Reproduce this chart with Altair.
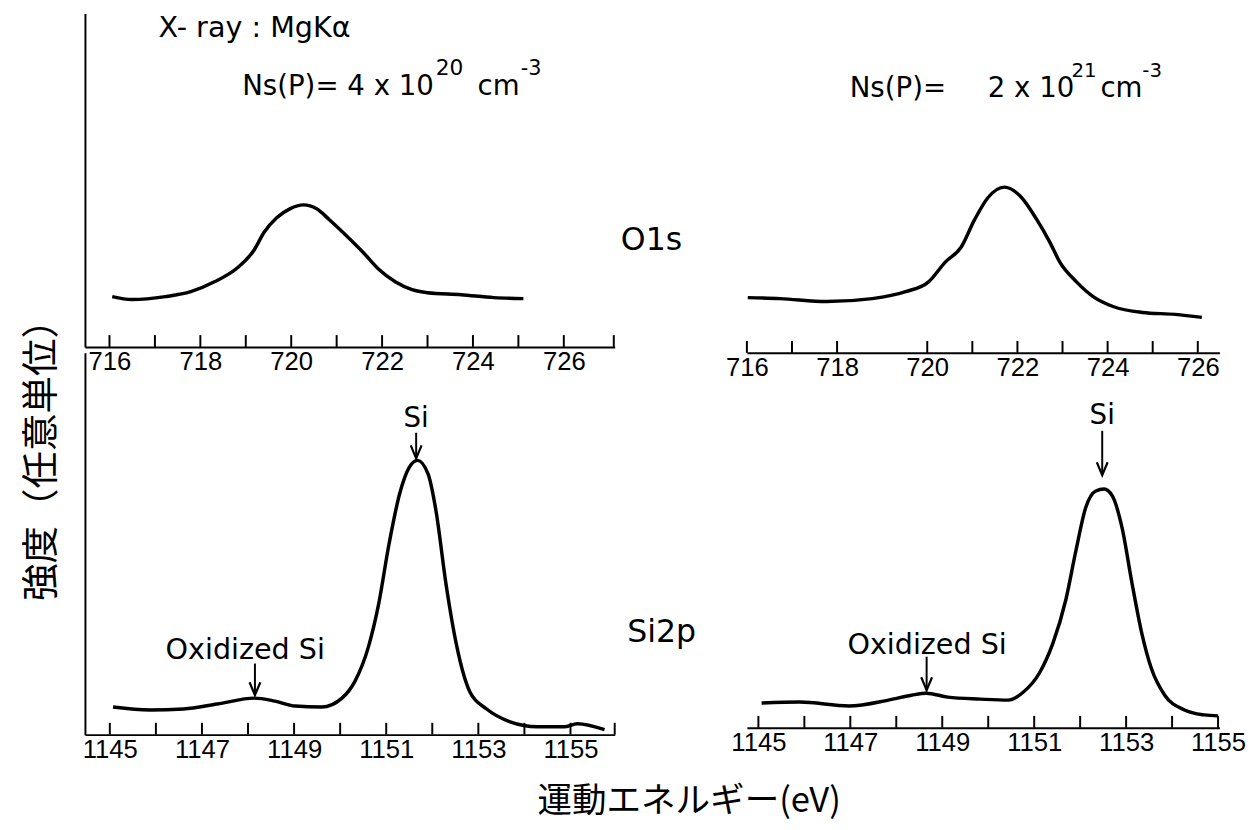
import altair as alt
import pandas as pd

# ---------------- data ----------------
# O1s, Ns(P) = 4e20 (top-left)
O1S_L_E = [716.06, 716.49, 717.23, 717.79, 718.31, 718.81, 719.18, 719.40, 719.68, 719.97, 720.27,
           720.56, 720.84, 721.21, 721.58, 721.92, 722.29, 722.66, 723.00, 723.74, 724.46, 725.11]
O1S_L_I = [51, 48, 51, 56, 66, 80, 98, 116, 131, 140, 144,
           140, 129, 113, 96, 79, 66, 58, 55, 53, 50, 49]

# O1s, Ns(P) = 2e21 (top-right)
O1S_R_E = [716.02, 716.74, 717.77, 718.78, 719.52, 720.03, 720.40, 720.75, 721.05, 721.34, 721.71,
           722.06, 722.43, 722.72, 722.94, 723.31, 723.68, 724.12, 724.77, 725.50, 726.09]
O1S_R_I = [56, 55, 52, 55, 62, 72, 92, 107, 135, 157, 168,
           159, 135, 112, 92, 72, 57, 47, 41, 39, 36]

# Si2p, Ns(P) = 4e20 (bottom-left)
SI2P_L_E = [1145.07, 1145.87, 1146.60, 1147.33, 1148.14, 1148.58, 1149.02, 1149.60, 1150.04,
            1150.32, 1150.62, 1150.83, 1151.06, 1151.29, 1151.50, 1151.68, 1151.91, 1152.08,
            1152.30, 1152.53, 1152.82, 1153.18, 1153.69, 1154.28, 1154.86, 1155.15, 1155.74]
SI2P_L_I = [28, 25, 26, 31, 37, 34, 29, 28, 37,
            54, 90, 131, 193, 244, 271, 278, 264, 227,
            152, 90, 43, 26, 13, 8, 8, 11, 5]

# Si2p, Ns(P) = 2e21 (bottom-right)
SI2P_R_E = [1145.07, 1145.90, 1146.97, 1147.83, 1148.33, 1148.65, 1149.12, 1149.83, 1150.44,
            1150.76, 1151.12, 1151.41, 1151.69, 1151.91, 1152.12, 1152.34, 1152.52, 1152.70,
            1152.91, 1153.13, 1153.34, 1153.55, 1153.84, 1154.27, 1154.70, 1155.00]
SI2P_R_I = [25, 26, 22, 28, 33, 35, 31, 29, 28,
            36, 56, 86, 130, 180, 223, 240, 242, 235,
            203, 146, 96, 60, 33, 18, 13, 12]

# axis ticks and tick labels
TL_TICKS = [716, 717, 718, 719, 720, 721, 722, 723, 724, 725, 726, 727.1]
TL_LABELS = [716, 718, 720, 722, 724, 726]
TR_TICKS = [716, 717, 718, 720, 721, 722, 723, 724, 725, 726]
TR_LABELS = [716, 718, 720, 722, 724, 726]
BL_TICKS = [1145, 1146, 1147, 1148, 1149, 1150, 1151, 1152, 1153, 1154, 1155, 1155.96]
BL_LABELS = [1145, 1147, 1149, 1151, 1153, 1155]
BR_TICKS = [1145, 1146, 1147, 1148, 1149, 1150, 1151, 1152, 1153, 1154, 1155]
BR_LABELS = [1145, 1147, 1149, 1151, 1153, 1155]

# annotation texts
TL_TEXT = ["X- ray : MgKα", "Ns(P)= 4 x 10", "20", "cm", "-3"]
TL_TEXT_X = [717.08, 718.92, 723.18, 724.10, 725.05]
TL_TEXT_Y = [314, 255, 276, 255, 276]
TL_TEXT_S = [29, 28, 22, 28, 21]

TR_TEXT = ["Ns(P)=", "2 x 10", "21", "cm", "-3"]
TR_TEXT_X = [718.28, 721.34, 723.20, 723.84, 724.77]
TR_TEXT_Y = [259, 259, 280, 259, 280]
TR_TEXT_S = [28, 28, 20, 28, 20]

TL_CTEXT = ["O1s"]
TL_CTEXT_X = [727.93]
TL_CTEXT_Y = [98]
TL_CTEXT_S = [32]

BL_CTEXT = ["Si2p", "Si", "Oxidized Si"]
BL_CTEXT_X = [1156.98, 1151.65, 1147.94]
BL_CTEXT_Y = [94, 312, 77]
BL_CTEXT_S = [32, 28, 29]

BR_CTEXT = ["Si", "Oxidized Si"]
BR_CTEXT_X = [1152.48, 1148.67]
BR_CTEXT_Y = [308, 75]
BR_CTEXT_S = [28, 29]

# arrows: x, start, tip
BL_ARROW_X = [1151.65, 1148.15]
BL_ARROW_Y1 = [306, 72]
BL_ARROW_Y2 = [280, 40]
BR_ARROW_X = [1152.48, 1148.66]
BR_ARROW_Y1 = [301, 72]
BR_ARROW_Y2 = [256, 38]

FONT = "DejaVu Sans"
TICK_FONT = "Liberation Sans Narrow, Liberation Sans, sans-serif"
CJK = "Noto Sans CJK JP"
ARROW_SHAPE = "M-1,-2.4L0,0L1,-2.4"


def panel(E, I, xdom, width, height, ticks, labels, xaxis_extra, yaxis,
          ltext=None, ctext=None, arrows=None):
    xs = alt.Scale(domain=xdom, nice=False, zero=False)
    ys = alt.Scale(domain=[0, height], nice=False, zero=False)
    xaxis = alt.Axis(values=labels, ticks=False, domain=True, domainColor="black",
                     domainWidth=2, labelFont=TICK_FONT, labelFontSize=26,
                     labelColor="black", labelPadding=2, grid=False, format="d",
                     labelFlush=False, labelOverlap=False, **xaxis_extra)
    layers = []
    curve = alt.Chart(pd.DataFrame({"E": E, "I": I})).mark_line(
        color="black", strokeWidth=3.5, interpolate="monotone"
    ).encode(
        x=alt.X("E:Q", scale=xs, axis=xaxis),
        y=alt.Y("I:Q", scale=ys, axis=yaxis),
    )
    layers.append(curve)
    tk = alt.Chart(pd.DataFrame({"t": ticks})).mark_rule(color="black", strokeWidth=2).encode(
        x=alt.X("t:Q", scale=xs, axis=xaxis),
        y=alt.Y(datum=0, scale=ys, axis=yaxis),
        y2=alt.Y2(datum=12),
    )
    layers.append(tk)
    if ltext is not None:
        t, x, y, s = ltext
        layers.append(alt.Chart(pd.DataFrame({"t": t, "x": x, "y": y, "s": s})).mark_text(
            align="left", baseline="alphabetic", font=FONT, color="black"
        ).encode(
            x=alt.X("x:Q", scale=xs, axis=xaxis),
            y=alt.Y("y:Q", scale=ys, axis=yaxis),
            text="t:N",
            size=alt.Size("s:Q", scale=None, legend=None),
        ))
    if ctext is not None:
        t, x, y, s = ctext
        layers.append(alt.Chart(pd.DataFrame({"t": t, "x": x, "y": y, "s": s})).mark_text(
            align="center", baseline="alphabetic", font=FONT, color="black"
        ).encode(
            x=alt.X("x:Q", scale=xs, axis=xaxis),
            y=alt.Y("y:Q", scale=ys, axis=yaxis),
            text="t:N",
            size=alt.Size("s:Q", scale=None, legend=None),
        ))
    if arrows is not None:
        ax, a1, a2 = arrows
        adf = pd.DataFrame({"x": ax, "y1": a1, "y2": a2})
        layers.append(alt.Chart(adf).mark_rule(color="black", strokeWidth=2).encode(
            x=alt.X("x:Q", scale=xs, axis=xaxis),
            y=alt.Y("y1:Q", scale=ys, axis=yaxis),
            y2="y2:Q",
        ))
        layers.append(alt.Chart(adf).mark_point(
            shape=ARROW_SHAPE, filled=False, size=120, stroke="black",
            strokeWidth=2.2, opacity=1
        ).encode(
            x=alt.X("x:Q", scale=xs, axis=xaxis),
            y=alt.Y("y2:Q", scale=ys, axis=yaxis),
        ))
    return alt.layer(*layers).properties(width=width, height=height)


yaxis_plain = alt.Axis(labels=False, ticks=False, domain=True, domainColor="black",
                       domainWidth=2, grid=False, title=None)
yaxis_title = alt.Axis(labels=False, ticks=False, domain=True, domainColor="black",
                       domainWidth=2, grid=False, title="強度（任意単位）",
                       titleFont=CJK, titleFontSize=38, titleFontWeight="normal",
                       titleColor="black", titleAngle=270, titleAlign="center",
                       titleBaseline="middle", titleX=-43, titleY=99)

tl = panel(O1S_L_E, O1S_L_I, [715.46, 727.12], 537, 338, TL_TICKS, TL_LABELS,
           {"title": None}, yaxis_plain,
           ltext=(TL_TEXT, TL_TEXT_X, TL_TEXT_Y, TL_TEXT_S),
           ctext=(TL_CTEXT, TL_CTEXT_X, TL_CTEXT_Y, TL_CTEXT_S))

bl = panel(SI2P_L_E, SI2P_L_I, [1144.46, 1155.96], 537, 387, BL_TICKS, BL_LABELS,
           {"title": "運動エネルギー(eV)", "titleFont": CJK, "titleFontSize": 35,
            "titleFontWeight": "normal", "titleColor": "black", "titleX": 612,
            "titleY": 67, "titleAlign": "center", "titleBaseline": "middle"},
           yaxis_title,
           ctext=(BL_CTEXT, BL_CTEXT_X, BL_CTEXT_Y, BL_CTEXT_S),
           arrows=(BL_ARROW_X, BL_ARROW_Y1, BL_ARROW_Y2))

tr = panel(O1S_R_E, O1S_R_I, [716.0, 726.48], 479, 344, TR_TICKS, TR_LABELS,
           {"title": None}, None,
           ltext=(TR_TEXT, TR_TEXT_X, TR_TEXT_Y, TR_TEXT_S))

br = panel(SI2P_R_E, SI2P_R_I, [1144.75, 1155.03], 479, 380, BR_TICKS, BR_LABELS,
           {"title": None}, None,
           ctext=(BR_CTEXT, BR_CTEXT_X, BR_CTEXT_Y, BR_CTEXT_S),
           arrows=(BR_ARROW_X, BR_ARROW_Y1, BR_ARROW_Y2))

chart = alt.concat(
    tl, tr, bl, br, columns=2,
    spacing={"row": 0, "column": 134}, bounds="flush", align="none",
).properties(
    padding={"left": 15, "top": 0, "right": 5, "bottom": 0},
    background="white",
).configure_view(stroke=None)

chart.save("out.html", embed_options={"renderer": "svg", "actions": False})
